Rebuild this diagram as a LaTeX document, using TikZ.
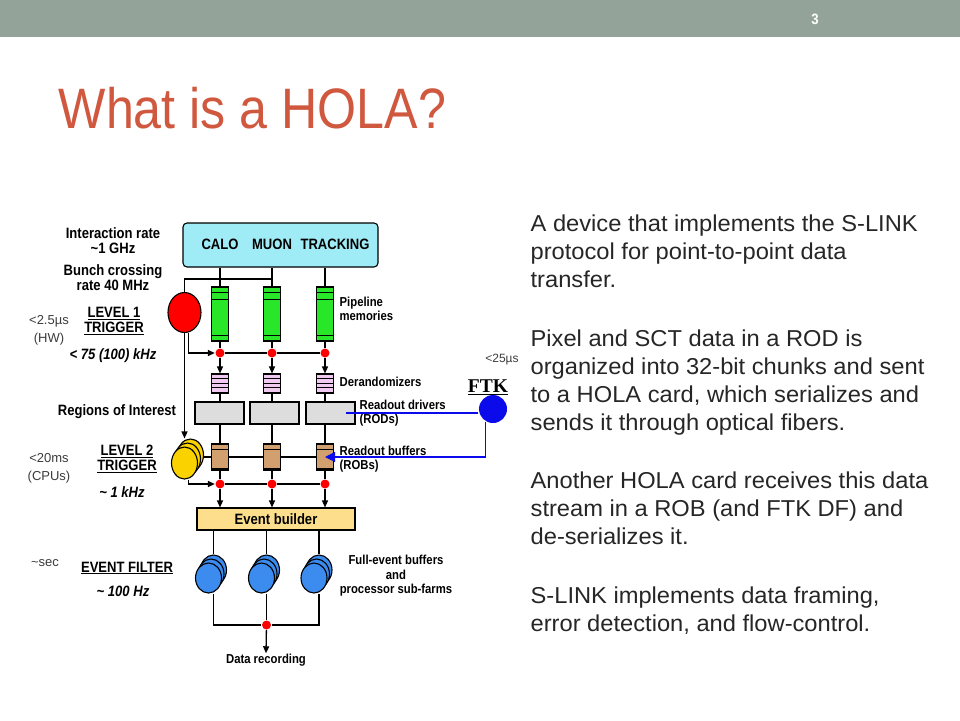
\documentclass[tikz,border=0pt]{standalone}
\usepackage{fontspec}
\setmainfont{Liberation Sans}
\newfontfamily\titlefont[FakeStretch=0.88]{Liberation Sans}
\newfontfamily\bodyfont[FakeStretch=1.03]{Liberation Sans}
\newfontfamily\diagfont[FakeStretch=0.87]{Liberation Sans}
\newfontfamily\ftkfont{Liberation Serif}
\usetikzlibrary{shapes.geometric,arrows.meta}

\definecolor{barcol}{RGB}{148,163,153}
\definecolor{titlecol}{RGB}{208,88,62}
\definecolor{bodycol}{RGB}{38,38,38}
\definecolor{detcol}{RGB}{160,236,246}
\definecolor{pipecol}{RGB}{40,230,40}
\definecolor{dercol}{RGB}{240,200,240}
\definecolor{rodcol}{RGB}{221,221,221}
\definecolor{robcol}{RGB}{210,160,110}
\definecolor{ebcol}{RGB}{252,222,140}
\definecolor{l2col}{RGB}{250,210,0}
\definecolor{efcol}{RGB}{60,140,240}
\definecolor{ftkcol}{RGB}{10,10,235}
\definecolor{timecol}{RGB}{60,60,60}

\begin{document}
\begin{tikzpicture}[x=1pt, y=-1pt, line width=1.3pt, >={Triangle[length=7pt,width=6pt]},
    lbl/.style = {font=\diagfont\bfseries\fontsize{15}{15}\selectfont, align=center, inner sep=0},
    smlbl/.style = {font=\diagfont\bfseries\fontsize{13}{14.5}\selectfont, align=center, inner sep=0},
    rlbl/.style = {smlbl, align=left, anchor=west},
    ratelbl/.style = {font=\diagfont\bfseries\itshape\fontsize{15}{15}\selectfont, inner sep=0},
    tlbl/.style = {font=\fontsize{13}{18}\selectfont, text=timecol, align=center, inner sep=0},
    bodytext/.style = {font=\bodyfont\fontsize{23}{28}\selectfont, text=bodycol, align=left, anchor=north west, inner sep=0},
    box/.style = {draw, inner sep=0, line width=1.1pt},
    pipebox/.style = {box, fill=pipecol, minimum width=17, minimum height=54},
    derbox/.style = {box, fill=dercol, minimum width=17, minimum height=19},
    rodbox/.style = {box, fill=rodcol, minimum width=49, minimum height=22},
    robbox/.style = {box, fill=robcol, minimum width=17, minimum height=26},
    cpu/.style = {ellipse, draw, inner sep=0, line width=1.1pt},
    l1cpu/.style = {cpu, fill=red, minimum width=33, minimum height=40},
    l2cpu/.style = {cpu, fill=l2col, minimum width=26, minimum height=32},
    efcpu/.style = {cpu, fill=efcol, minimum width=26, minimum height=30},
    reddot/.style = {circle, fill=red, inner sep=0, minimum size=9},
    ftkline/.style = {draw=ftkcol, line width=1.2pt}]
    \useasboundingbox (0,0) rectangle (960,720);
    \fill[white] (0,0) rectangle (960,720);
    \fill[barcol] (0,0) rectangle (960,37);
    \node[font=\titlefont\bfseries\fontsize{15}{15}\selectfont, text=white, inner sep=0] (pgnum) at (815,19) {3};
    \node[anchor=base west, inner sep=0, font=\titlefont\fontsize{57}{57}\selectfont, text=titlecol] (title) at (58,128) {What is a HOLA?};

    % text on the right
    \node[bodytext] (para1) at (530,214.5) {A device that implements the S-LINK\\protocol for point-to-point data\\transfer.};
    \node[bodytext] (para2) at (530,329) {Pixel and SCT data in a ROD is\\organized into 32-bit chunks and sent\\to a HOLA card, which serializes and\\sends it through optical fibers.};
    \node[bodytext] (para3) at (530,471.5) {Another HOLA card receives this data\\stream in a ROB (and FTK DF) and\\de-serializes it.};
    \node[bodytext] (para4) at (530,586.5) {S-LINK implements data framing,\\error detection, and flow-control.};

    % detectors
    \node[box, fill=detcol, rounded corners=4pt, minimum width=195, minimum height=44] (det) at (280.5,245) {};
    \node[lbl] (calo) at (220,244) {CALO};
    \node[lbl] (muon) at (272,244) {MUON};
    \node[lbl] (trk) at (335,244) {TRACKING};

    % readout chain
    \foreach \i/\x/\rx in {1/220/219.5, 2/272/274.5, 3/325/330.5} {
        \node[pipebox] (pipe\i) at (\x,314) {};
        \draw[line width=0.8pt] ([yshift=-6pt]pipe\i.north west) -- ([yshift=-6pt]pipe\i.north east);
        \draw[line width=0.8pt] ([yshift=-13pt]pipe\i.north west) -- ([yshift=-13pt]pipe\i.north east);
        \draw[line width=0.8pt] ([yshift=6pt]pipe\i.south west) -- ([yshift=6pt]pipe\i.south east);
        \node[reddot] (dotA\i) at (\x,353) {};
        \node[derbox] (der\i) at (\x,383.5) {};
        \draw[line width=0.8pt] ([yshift=-4.5pt]der\i.north west) -- ([yshift=-4.5pt]der\i.north east);
        \draw[line width=0.8pt] ([yshift=-9.5pt]der\i.north west) -- ([yshift=-9.5pt]der\i.north east);
        \draw[line width=0.8pt] ([yshift=-14pt]der\i.north west) -- ([yshift=-14pt]der\i.north east);
        \node[rodbox] (rod\i) at (\rx,413) {};
        \node[robbox] (rob\i) at (\x,457) {};
        \draw[line width=0.8pt] ([yshift=-6pt]rob\i.north west) -- ([yshift=-6pt]rob\i.north east);
        \draw[line width=2pt] ([yshift=2pt]rob\i.south west) -- ([yshift=2pt]rob\i.south east);
        \node[reddot] (dotB\i) at (\x,484) {};
    }
    \node[box, fill=ebcol, minimum width=158, minimum height=22, font=\diagfont\bfseries\fontsize{15}{15}\selectfont] (eb) at (276,519) {Event builder};

    % triggers
    \node[l1cpu] (l1) at (184.5,312.5) {};
    \node[l2cpu] (l2c) at (190.5,455) {};
    \node[l2cpu] (l2b) at (187.5,459) {};
    \node[l2cpu] (l2a) at (184.5,463) {};
    \foreach \i/\x in {1/208.5, 2/261.5, 3/314} {
        \node[efcpu] (efc\i) at (\x+5,570) {};
        \node[efcpu] (efb\i) at (\x+2.5,574) {};
        \node[efcpu] (efa\i) at (\x,578) {};
    }
    \node[reddot] (dotC) at (266.5,625) {};
    \coordinate (l1top) at (272,279);

    \foreach \i in {1,2,3} {
        \draw (det.south -| pipe\i.north) -- (pipe\i.north);
        \draw (pipe\i) -- (dotA\i);
        \draw[->] (dotA\i) -- (der\i);
        \draw (der\i) -- (der\i.south |- rod\i.north);
        \draw (rob\i.north |- rod\i.south) -- (rob\i);
        \draw (rob\i) -- (dotB\i);
        \draw[->] (dotB\i) -- (dotB\i |- eb.north);
        \draw (efc\i.north |- eb.south) -- (efc\i.north);
    }
    \draw (l1.north) |- (l1top);
    \draw[->] ([xshift=4pt]l1.south) |- (dotA1);
    \draw (dotA1) -- (dotA2) -- (dotA3);
    \draw[->] (l1.south) -- (l1.south |- l2c.north);
    \draw (rob1.west -| l2c.east) -- (rob1.west);
    \draw (rob1) -- (rob2);
    \draw (rob2) -- (rob3);
    \draw[->] ([xshift=4pt]l2a.south) |- (dotB1);
    \draw (dotB1) -- (dotB2) -- (dotB3);
    \draw (efc1 |- efa1.south) |- (dotC);
    \draw (efc3 |- efa3.south) |- (dotC);
    \draw (efc2 |- efa2.south) -- (dotC);

    % labels
    \node[lbl] (irate) at (113,240.5) {Interaction rate\\\textasciitilde1 GHz};
    \node[lbl] (bxing) at (113,277.5) {Bunch crossing\\rate 40 MHz};
    \node[lbl] (lvl1) at (114,321) {\underline{LEVEL 1}\\\underline{TRIGGER}};
    \node[ratelbl] (l1rate) at (113,356) {< 75 (100) kHz};
    \node[tlbl] (l1lat) at (49,330) {<2.5µs\\(HW)};
    \node[lbl] (roi) at (117,412) {Regions of Interest};
    \node[lbl] (lvl2) at (127,459) {\underline{LEVEL 2}\\\underline{TRIGGER}};
    \node[ratelbl] (l2rate) at (122,492) {\textasciitilde\ 1 kHz};
    \node[tlbl] (l2lat) at (49,468) {<20ms\\(CPUs)};
    \node[tlbl] (eflat) at (45,563) {\textasciitilde sec};
    \node[lbl] (efname) at (127,568) {\underline{EVENT FILTER}};
    \node[ratelbl] (efrate) at (123,591) {\textasciitilde\ 100 Hz};
    \node[smlbl] (febuf) at (396,576) {Full-event buffers\\and\\processor sub-farms};
    \node[smlbl] (rec) at (266,660) {Data recording};
    \node[rlbl] (pipelbl) at (339,309) {Pipeline\\memories};
    \node[rlbl] (derlbl) at (339,382) {Derandomizers};
    \node[rlbl] (rodlbl) at (359,413) {Readout drivers\\(RODs)};
    \node[rlbl] (roblbl) at (339,459) {Readout buffers\\(ROBs)};
    \draw[->] (dotC) -- (rec.north);

    % FTK
    \node[tlbl, font=\fontsize{12}{12}\selectfont] (ftklat) at (502,360) {<25µs};
    \node[inner sep=0, font=\ftkfont\bfseries\fontsize{19.5}{20}\selectfont] (ftklbl) at (488,387) {\underline{FTK}};
    \node[circle, fill=ftkcol, minimum size=28, inner sep=0] (ftk) at (493,409) {};
    \draw[ftkline] (ftk.west |- rod3) -- ([xshift=15pt]rod3.center);
    \draw[ftkline, -{Triangle[length=10pt,width=10pt]}] (ftk.240) |- (rob3.center);
\end{tikzpicture}
\end{document}
